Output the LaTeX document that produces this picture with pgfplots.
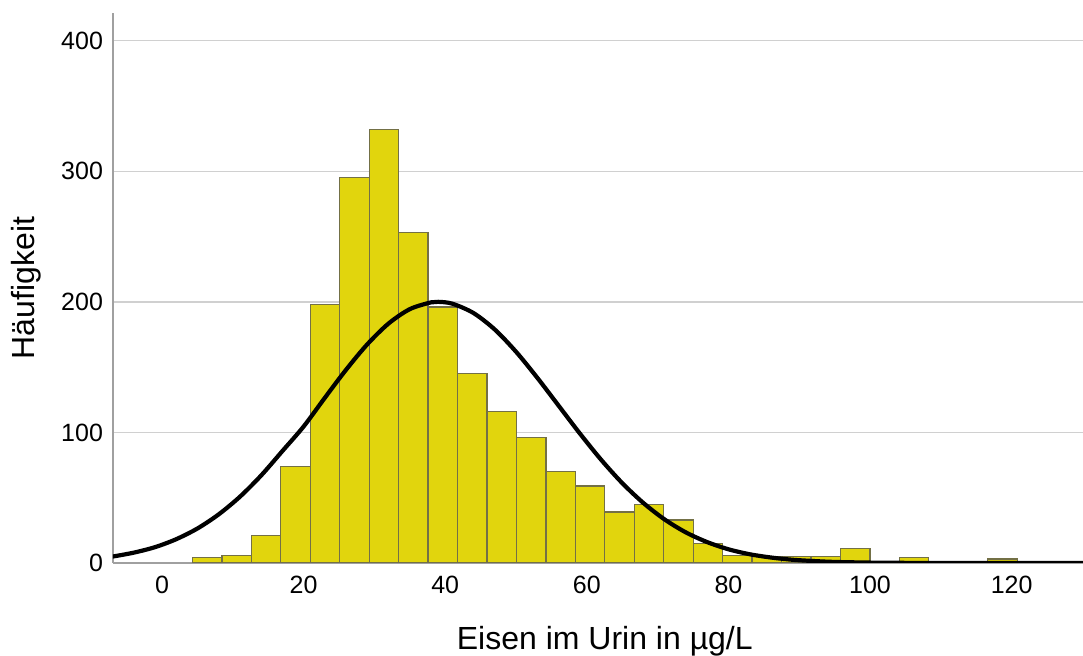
\documentclass[border=0pt]{standalone}
\usepackage{fontspec}
\setmainfont{Liberation Sans}
\usepackage{pgfplots}
\pgfplotsset{compat=1.18}
\definecolor{barfill}{RGB}{225,213,13}
\definecolor{baredge}{RGB}{115,112,70}
\definecolor{gridc}{RGB}{208,208,208}
\definecolor{axc}{RGB}{160,160,160}
\begin{document}
\begin{tikzpicture}
\begin{axis}[
  scale only axis,
  width=485pt, height=275pt,
  xmin=-6.92, xmax=130.08,
  ymin=0, ymax=421.2,
  axis x line*=bottom, axis y line*=left,
  axis line style={axc, line width=0.9pt, -},
  xtick={0,20,40,60,80,100,120},
  ytick={0,100,200,300,400},
  major tick length=0pt,
  ymajorgrids,
  grid style={gridc, line width=0.7pt},
  /pgf/number format/assume math mode=true,
  tick label style={font=\fontsize{12.5}{14}\selectfont, black},
  xticklabel style={yshift=-3.2pt},
  yticklabel style={xshift=-1.5pt},
  xlabel={Eisen im Urin in µg/L},
  ylabel={Häufigkeit},
  xlabel style={font=\fontsize{16}{18}\selectfont, at={(axis description cs:0.507,-0.1575)}, anchor=base},
  ylabel style={font=\fontsize{16}{18}\selectfont, at={(axis description cs:-0.0897,0.5)}, anchor=center},
  clip=true,
]
\addplot[ybar interval, fill=barfill, draw=baredge, line width=0.65pt] coordinates {
(4.30,4) (8.46,6) (12.62,21) (16.78,74) (20.94,198) (25.10,295) (29.26,332)
(33.42,253) (37.58,196) (41.74,145) (45.90,116) (50.06,96) (54.22,70)
(58.38,59) (62.54,39) (66.70,45) (70.86,33) (75.02,15) (79.18,6) (83.34,5)
(87.50,5) (91.66,5) (95.82,11) (99.98,0) (104.14,4) (108.30,1) (112.46,0)
(116.62,3) (120.78,1) (124.94,1)
};
\addplot[black, line width=2.1pt, smooth, no markers] coordinates {
(-7,4.9) (-4,7.9) (-1,12.1) (2,18.2) (5,26.4) (8,37.2) (11,50.7) (14,67.0)
(17,85.7) (20,104.5) (23,126.5) (26,148.0) (29,167.5) (32,183.4) (35,194.4)
(38,199.6) (39,200) (41,198.6) (44,191.4) (47,178.8) (50,161.8) (53,141.9)
(56,120.6) (59,99.3) (62,79.2) (65,61.2) (68,45.9) (71,33.3) (74,23.4)
(77,16.0) (80,10.5) (83,6.7) (86,4.2) (89,2.5) (92,1.5) (95,0.8) (100,0.3)
(105,0.1) (110,0) (120,0) (131,0)
};
\coordinate (SW) at (rel axis cs:0,0);
\coordinate (NE) at (rel axis cs:1,1);
\end{axis}
\pgfresetboundingbox
\path ([shift={(-56.5pt,-46.15pt)}]SW) rectangle ([shift={(0pt,6.5pt)}]NE);
\end{tikzpicture}
\end{document}
